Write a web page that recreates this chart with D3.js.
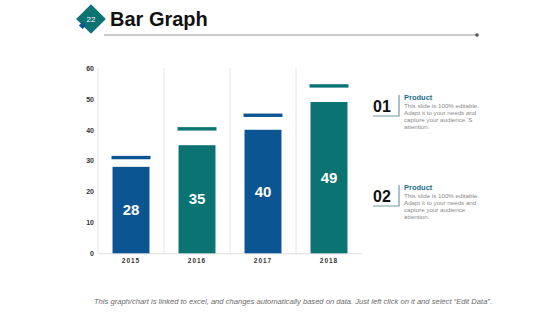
<!DOCTYPE html>
<html>
<head>
<meta charset="utf-8">
<script src="https://cdn.jsdelivr.net/npm/d3@7"></script>
<style>
  body { margin: 0; background: #fff; }
  svg { font-family: "Liberation Sans", Arial, sans-serif; }
</style>
</head>
<body>
<div class="chart"></div>
<script>
const width = 560, height = 315,
    margin = { top: 68, bottom: 62, left: 98, right: 198 };

const years = ["2015", "2016", "2017", "2018"];
const values = [28, 35, 40, 49];
const targets = [31, 40.3, 44.7, 54.2];
const yTicks = [0, 10, 20, 30, 40, 50, 60];
const barColors = ["#0b5592", "#0b7372", "#0b5592", "#0b7372"];
const bodyText = [
    ["This slide is 100% editable.", "Adapt it to your needs and", "capture your  audience 'S", "attention."],
    ["This slide is 100% editable.", "Adapt it to your needs and", "capture your  audience", "attention."]
];
const numbers = ["01", "02"];

const svg = d3.select(".chart")
    .append("svg")
    .attr("width", width)
    .attr("height", height)

// header
svg.append("rect")
    .attr("x", 91 - 10.5).attr("y", 19 - 10.5)
    .attr("width", 21).attr("height", 21)
    .attr("fill", "#0b7372")
    .attr("transform", "rotate(45, 91, 19)")
svg.append("rect")
    .attr("x", 80).attr("y", 23)
    .attr("width", 5).attr("height", 5)
    .attr("fill", "#0b5592")
    .attr("transform", "rotate(45, 82.5, 25.5)")
svg.append("text")
    .text("22")
    .attr("x", 91).attr("y", 22)
    .attr("text-anchor", "middle")
    .attr("fill", "#fff")
    .attr("font-size", 8)
svg.append("text")
    .text("Bar Graph")
    .attr("x", 110).attr("y", 26)
    .attr("font-size", 20)
    .attr("font-weight", "bold")
    .attr("fill", "#111")
svg.append("line")
    .attr("x1", 104).attr("x2", 477)
    .attr("y1", 35).attr("y2", 35)
    .attr("stroke", "#999").attr("stroke-width", 1)
svg.append("circle")
    .attr("cx", 477).attr("cy", 35).attr("r", 1.8)
    .attr("fill", "#555")

const x = d3.scaleBand()
    .domain(years)
    .range([margin.left, width - margin.right])
    .paddingInner(0.44)
    .paddingOuter(0.22)

const y = d3.scaleLinear()
    .domain([0, 60])
    .range([height - margin.bottom + 0.3, margin.top])

// separators between categories
const colW = (width - margin.right - margin.left) / years.length;
svg.selectAll("line.sep")
    .data(years)
    .join("line")
    .attr("class", "sep")
    .attr("x1", (d, i) => margin.left + i * colW)
    .attr("x2", (d, i) => margin.left + i * colW)
    .attr("y1", y(60))
    .attr("y2", y(0))
    .attr("stroke", "#e6e6e6")

const yAxis = d3.axisLeft(y).tickValues(yTicks).tickSize(0).tickPadding(4)
const yg = svg.append("g")
    .attr("transform", `translate(${margin.left}, 0)`)
    .call(yAxis)
yg.select(".domain").remove()
yg.selectAll("text")
    .attr("font-size", 7)
    .attr("font-weight", "bold")
    .attr("fill", "#333")
    .attr("font-family", "Liberation Sans, Arial, sans-serif")

const xAxis = d3.axisBottom(x).tickSize(0).tickPadding(5)
const xg = svg.append("g")
    .attr("transform", `translate(0, ${y(0)})`)
    .call(xAxis)
xg.select(".domain").attr("stroke", "#ddd")
xg.selectAll("text")
    .attr("font-size", 6.5)
    .attr("font-weight", "bold")
    .attr("letter-spacing", 1)
    .attr("fill", "#333")
    .attr("font-family", "Liberation Sans, Arial, sans-serif")

svg.selectAll("rect.bar")
    .data(values)
    .join("rect")
    .attr("class", "bar")
    .attr("x", (d, i) => x(years[i]))
    .attr("y", d => y(d))
    .attr("width", x.bandwidth())
    .attr("height", d => y(0) - y(d))
    .attr("fill", (d, i) => barColors[i])

svg.selectAll("rect.target")
    .data(targets)
    .join("rect")
    .attr("class", "target")
    .attr("x", (d, i) => x(years[i]) - 1)
    .attr("y", d => y(d) - 1.7)
    .attr("width", x.bandwidth() + 2)
    .attr("height", 3.4)
    .attr("fill", (d, i) => barColors[i])

svg.selectAll("text.val")
    .data(values)
    .join("text")
    .attr("class", "val")
    .text(d => d)
    .attr("x", (d, i) => x(years[i]) + x.bandwidth() / 2)
    .attr("y", d => (y(d) + y(0)) / 2 + 5)
    .attr("text-anchor", "middle")
    .attr("fill", "#fff")
    .attr("font-size", 15)
    .attr("font-weight", "bold")

// legend blocks
numbers.forEach((n, k) => {
    const oy = k * 90;
    const g = svg.append("g").attr("transform", `translate(0, ${oy})`)
    g.append("text")
        .text(n)
        .attr("x", 373).attr("y", 112)
        .attr("font-size", 16)
        .attr("font-weight", "bold")
        .attr("fill", "#111")
    g.append("path")
        .attr("d", "M373,116H399V95")
        .attr("fill", "none")
        .attr("stroke", "#6e9aa6")
        .attr("stroke-width", 1.2)
    g.append("text")
        .text("Product")
        .attr("x", 404).attr("y", 100)
        .attr("font-size", 7.5)
        .attr("font-weight", "bold")
        .attr("fill", "#1f6f87")
    g.selectAll("text.body")
        .data(bodyText[k])
        .join("text")
        .attr("class", "body")
        .text(d => d)
        .attr("x", 404)
        .attr("y", (d, i) => 108 + i * 7)
        .attr("font-size", 6.2)
        .attr("fill", "#8a8a8a")
})

svg.append("text")
    .text("This graph/chart is linked to excel, and changes automatically based on data. Just left click on it and select \u201cEdit Data\u201d.")
    .attr("x", 293).attr("y", 304)
    .attr("text-anchor", "middle")
    .attr("font-size", 7.6)
    .attr("font-style", "italic")
    .attr("fill", "#6a6a6a")
</script>
</body>
</html>
